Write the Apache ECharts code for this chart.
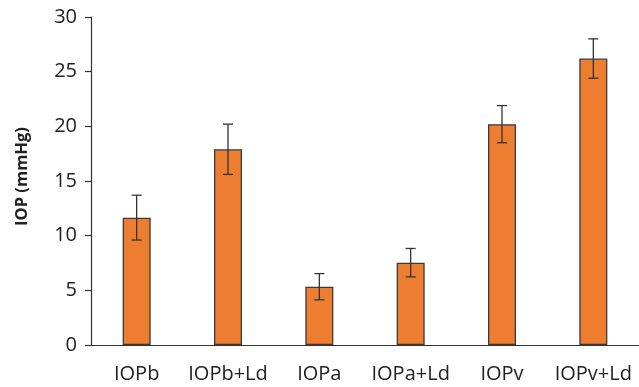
<!DOCTYPE html>
<html>
<head>
<meta charset="utf-8">
<script src="https://cdn.jsdelivr.net/npm/echarts@6/dist/echarts.min.js"></script>
<style>html,body{margin:0;padding:0;background:#fff;}#c{width:639px;height:387px;}</style>
</head>
<body>
<div id="c"></div>
<script>
var categories = ['IOPb', 'IOPb+Ld', 'IOPa', 'IOPa+Ld', 'IOPv', 'IOPv+Ld'];
var means = [11.65, 17.9, 5.33, 7.53, 20.2, 26.2];
var errors = [2.05, 2.3, 1.2, 1.3, 1.7, 1.8];
var yTicks = [0, 5, 10, 15, 20, 25, 30];

var errData = categories.map(function (c, i) { return [i, means[i] - errors[i], means[i] + errors[i]]; });
var FONT = '"Open Sans", "Noto Sans", sans-serif';
var chart = echarts.init(document.getElementById('c'));
chart.setOption({
  animation: false,
  backgroundColor: '#fff',
  grid: { left: 91, right: -3, top: 17, bottom: 42, containLabel: false },
  xAxis: {
    type: 'category', data: categories,
    axisLine: { lineStyle: { color: '#333', width: 1.2 } },
    axisTick: { alignWithLabel: true, length: 6, lineStyle: { color: '#333', width: 1.2 } },
    axisLabel: { interval: 0, hideOverlap: false, color: '#222', fontSize: 20, fontFamily: FONT, margin: 19 }
  },
  yAxis: {
    type: 'value', min: yTicks[0], max: yTicks[yTicks.length - 1], interval: 5,
    name: 'IOP (mmHg)', nameLocation: 'middle', nameGap: 60, nameRotate: 90,
    nameTextStyle: { color: '#222', fontSize: 16.5, fontWeight: 'bold', fontFamily: FONT, padding: [0, 0, 0, 9] },
    axisLine: { show: true, lineStyle: { color: '#333', width: 1.2 } },
    axisTick: { show: true, length: 6, lineStyle: { color: '#333', width: 1.2 } },
    axisLabel: { color: '#222', fontSize: 20, fontFamily: FONT, margin: 14 },
    splitLine: { show: false }
  },
  series: [
    {
      type: 'bar', data: means, barWidth: 28,
      itemStyle: { color: '#ED7D31', borderColor: '#3a3a3a', borderWidth: 1.3 }
    },
    {
      type: 'custom', data: errData, z: 10,
      renderItem: function (params, api) {
        var x = api.value(0);
        var lo = api.coord([x, api.value(1)]);
        var hi = api.coord([x, api.value(2)]);
        var hw = 5;
        var st = { stroke: '#333', lineWidth: 1.3 };
        return {
          type: 'group', children: [
            { type: 'line', shape: { x1: lo[0], y1: lo[1], x2: hi[0], y2: hi[1] }, style: st },
            { type: 'line', shape: { x1: lo[0] - hw, y1: lo[1], x2: lo[0] + hw, y2: lo[1] }, style: st },
            { type: 'line', shape: { x1: hi[0] - hw, y1: hi[1], x2: hi[0] + hw, y2: hi[1] }, style: st }
          ]
        };
      }
    }
  ]
});
</script>
</body>
</html>
